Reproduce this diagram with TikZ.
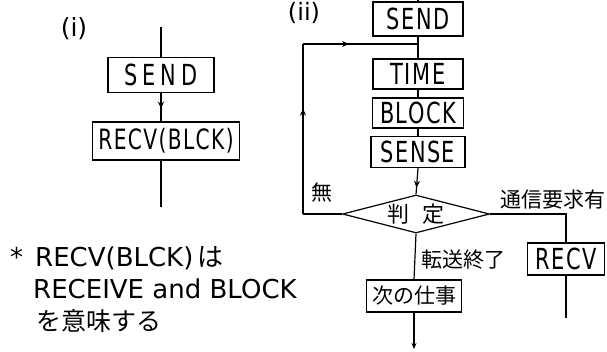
\documentclass[tikz,border=0pt]{standalone}
\usepackage{fontspec}
\setmainfont{DejaVu Sans}
\newfontfamily\narrowsans{DejaVu Sans}[FakeStretch=0.72, LetterSpace=5]
\newfontfamily\jp{Noto Sans CJK JP}
\usetikzlibrary{shapes.geometric,arrows.meta,decorations.markings}

\tikzset{
  flow/.style={line width=1.2pt},
  stepbox/.style={draw, line width=1.2pt, inner sep=0pt, font=\fontsize{29}{32}\selectfont\narrowsans},
  midarrow/.style={postaction={decorate, decoration={markings,
      mark=at position #1 with {\arrow{Stealth[length=7pt,width=6pt]}}}}},
  lbl/.style={inner sep=0pt, font=\fontsize{21}{24}\selectfont\jp},
  notetext/.style={inner sep=0pt, anchor=west, font=\fontsize{26}{30}\selectfont},
}

\begin{document}
\begin{tikzpicture}[x=1pt, y=-1pt]
\useasboundingbox (0,0) rectangle (607,352);

% ---------------- (i) ----------------
\node[inner sep=0pt, font=\fontsize{25}{28}\selectfont] (labi) at (74,29) {(i)};
\coordinate (topi) at (161,27);
\node[stepbox, minimum width=106pt, minimum height=35pt] (sendi) at (161,75) {S\,E\,N\,D};
\node[stepbox, minimum width=147pt, minimum height=38pt,
      font=\fontsize{28}{30}\selectfont\narrowsans] (recvi) at (166,141) {RECV(BLCK)};
\coordinate (boti) at (161,207);

\draw[flow] (topi) -- (sendi.north);
\draw[flow, midarrow=0.55] (sendi.south) -- (sendi.south |- recvi.north);
\draw[flow] (sendi.south |- recvi.south) -- (boti);

% explanatory note
\node[notetext] (note1) at (10,258) {*\hspace{12pt}RECV(BLCK)\,{\jp は}};
\node[notetext] (note2) at (33,289) {RECEIVE and BLOCK};
\node[notetext, font=\fontsize{25}{28}\selectfont\jp] (note3) at (36,321) {を意味する};

% ---------------- (ii) ----------------
\node[inner sep=0pt, font=\fontsize{24}{26}\selectfont] (labii) at (304,13) {(ii)};
\coordinate (topii) at (418,0);
\node[stepbox, minimum width=90pt, minimum height=34pt] (sendii) at (418,19) {SEND};
\node[stepbox, minimum width=90pt, minimum height=30pt] (time) at (418,74) {TIME};
\node[stepbox, minimum width=91pt, minimum height=30pt] (block) at (418,113) {BLOCK};
\node[stepbox, minimum width=94pt, minimum height=31pt] (sense) at (418,152) {SENSE};
\node[draw, shape=diamond, line width=1.2pt, inner sep=0pt, aspect=3.9,
      minimum width=147pt, minimum height=38pt,
      font=\fontsize{22}{26}\selectfont\jp] (judge) at (416,214) {判\hspace{14pt}定};
\node[stepbox, minimum width=77pt, minimum height=32pt] (recvii) at (566,259) {RECV};
\node[stepbox, minimum width=95pt, minimum height=32pt,
      font=\fontsize{21}{24}\selectfont\jp] (next) at (414,296) {次の仕事};

\coordinate (join) at (418,44);
\coordinate (loopb) at (303,214);
\coordinate (loopt) at (303,44);
\coordinate (rturn) at (566,214);
\coordinate (recvend) at (566,318);
\coordinate (nextend) at (414,349);

\draw[flow] (topii) -- (sendii.north);
\draw[flow] (sendii.south) -- (time.north);
\draw[flow] (time.south) -- (block.north);
\draw[flow] (block.south) -- (sense.north);
\draw[flow, midarrow=0.75] (sense.south) -- (judge.north);

% "none" branch loops back above TIME
\draw[flow] (judge.west) -- (loopb);
\draw[flow, midarrow=0.62] (loopb) -- (loopt);
\draw[flow, midarrow=0.4] (loopt) -- (join);

% request branch
\draw[flow] (judge.east) -- (rturn) -- (recvii.north);
\draw[flow] (recvii.south) -- (recvend);

% transfer-finished branch
\draw[flow] (judge.south) -- (next.north);
\draw[flow, -{Stealth[length=6pt,width=5pt]}] (next.south) -- (nextend);

% branch labels
\node[lbl] (none) at (322,193) {無};
\node[lbl] (req) at (553,200) {通信要求有};
\node[lbl] (done) at (463,260) {転送終了};
\end{tikzpicture}
\end{document}
